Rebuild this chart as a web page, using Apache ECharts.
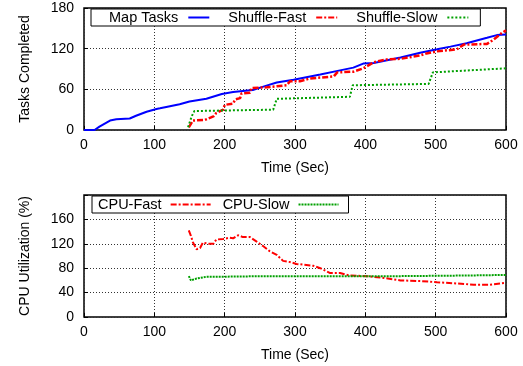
<!DOCTYPE html>
<html>
<head>
<meta charset="utf-8">
<script src="https://cdn.jsdelivr.net/npm/echarts@6/dist/echarts.min.js"></script>
<style>
  html, body { margin: 0; padding: 0; background: #fff; }
  #chart { width: 523px; height: 366px; }
</style>
</head>
<body>
<div id="chart"></div>
<script>
// top panel: tasks completed over time
const mapX = [0, 15, 22, 37, 46, 65, 74, 89, 103, 108, 117, 136, 150, 174, 196, 212, 240, 255, 274, 298, 307, 336, 364, 383, 397, 412, 450, 478, 502, 521, 544, 573, 587, 600];
const mapY = [0, 0, 5, 14, 16, 17, 21, 27, 31, 32, 34, 38, 42, 46, 53, 56, 59, 64, 70, 74, 76, 82, 88, 92, 98, 99, 107, 114, 119, 123, 128, 136, 140, 141];

const fastX = [149, 155, 172, 184, 188, 198, 200, 212, 215, 222, 224, 236, 238, 260, 288, 293, 307, 321, 355, 360, 383, 397, 412, 430, 450, 478, 487, 502, 530, 540, 573, 582, 594, 600];
const fastY = [4, 14, 15, 20, 25, 30, 37, 39, 45, 47, 54, 55, 62, 63, 66, 72, 72, 76, 79, 85, 86, 91, 100, 104, 105, 110, 113, 116, 119, 126, 127, 133, 143, 147];

const slowX = [148, 153, 157, 269, 274, 378, 382, 490, 496, 600];
const slowY = [4, 20, 28, 30, 46, 49, 66, 68, 85, 91];

// bottom panel: cpu utilization
const cpuFastX = [149, 152, 155, 160, 165, 169, 177, 184, 188, 198, 207, 212, 219, 226, 236, 245, 255, 264, 274, 283, 293, 302, 326, 336, 350, 364, 378, 402, 426, 450, 478, 502, 530, 554, 577, 600];
const cpuFastY = [142, 133, 122, 111, 113, 122, 120, 120, 127, 128, 130, 129, 134, 131, 131, 124, 116, 108, 102, 92, 90, 87, 84, 80, 72, 72, 68, 67, 64, 60, 59, 57, 55, 53, 53, 56];

const cpuSlowX = [149, 152, 160, 174, 193, 260, 355, 450, 544, 600];
const cpuSlowY = [67, 60, 63, 66, 66, 67, 67, 67, 68, 69];

const pairs = (xs, ys) => xs.map((x, i) => [x, ys[i]]);

const BLUE = "#0000ff";
const RED = "#ff0000";
const GREEN = "#00a000";
const FONT = "Liberation Sans";

const chart = echarts.init(document.getElementById("chart"));

const baseX = (idx) => ({
  type: "value",
  gridIndex: idx,
  min: 0,
  max: 600,
  interval: 100,
  name: "Time (Sec)",
  nameLocation: "middle",
  nameGap: 31,
  nameTextStyle: { color: "#000", fontSize: 14, fontFamily: FONT },
  axisLine: { show: false },
  axisTick: { show: true, inside: true, length: 4, lineStyle: { color: "#000" } },
  axisLabel: { color: "#000", fontSize: 14, fontFamily: FONT, margin: 8 },
  splitLine: { show: true, lineStyle: { color: "#333", type: [1, 2], width: 1 } },
});

const baseY = (idx, max, interval, name, fmt) => ({
  type: "value",
  gridIndex: idx,
  min: 0,
  max: max,
  interval: interval,
  name: name,
  nameLocation: "middle",
  nameGap: 52,
  nameTextStyle: { color: "#000", fontSize: 14, fontFamily: FONT },
  axisLine: { show: false },
  axisTick: { show: true, inside: true, length: 4, lineStyle: { color: "#000" } },
  axisLabel: { color: "#000", fontSize: 14, fontFamily: FONT, margin: 10, formatter: fmt },
  splitLine: { show: true, lineStyle: { color: "#333", type: [1, 2], width: 1 } },
});

const lineSeries = (name, data, color, type, xi, width) => ({
  name: name,
  type: "line",
  xAxisIndex: xi,
  yAxisIndex: xi,
  data: data,
  symbol: "none",
  smooth: false,
  lineStyle: { color: color, width: width, type: type },
  itemStyle: { color: color },
  z: 3,
});

const option = {
  animation: false,
  backgroundColor: "#fff",
  grid: [
    { left: 84, width: 422, top: 8, height: 122, show: true, borderColor: "#000", borderWidth: 1.5, backgroundColor: "transparent" },
    { left: 84, width: 422, top: 195, height: 122, show: true, borderColor: "#000", borderWidth: 1.5, backgroundColor: "transparent" },
  ],
  legend: [
    {
      data: ["Map Tasks", "Shuffle-Fast", "Shuffle-Slow"],
      left: 91,
      top: 9,
      align: "right",
      orient: "horizontal",
      itemWidth: 21,
      itemHeight: 14,
      itemGap: 18,
      padding: [1, 11, 1, 18],
      borderColor: "#000",
      borderWidth: 1,
      backgroundColor: "#fff",
      itemStyle: { opacity: 0 },
      textStyle: { color: "#000", fontSize: 14.5, fontFamily: FONT, padding: [0, 5, 0, 0] },
    },
    {
      data: ["CPU-Fast", "CPU-Slow"],
      left: 92,
      top: 196,
      align: "right",
      orient: "horizontal",
      itemWidth: 40,
      itemHeight: 13,
      itemGap: 11,
      padding: [1, 9, 1, 6],
      borderColor: "#000",
      borderWidth: 1,
      backgroundColor: "#fff",
      itemStyle: { opacity: 0 },
      textStyle: { color: "#000", fontSize: 14.5, fontFamily: FONT, padding: [0, 4, 0, 0] },
    },
  ],
  xAxis: [baseX(0), baseX(1)],
  yAxis: [
    baseY(0, 180, 60, "Tasks Completed"),
    baseY(1, 200, 40, "CPU Utilization (%)", (v) => (v === 200 ? "" : v)),
  ],
  series: [
    lineSeries("Map Tasks", pairs(mapX, mapY), BLUE, "solid", 0, 2),
    lineSeries("Shuffle-Fast", pairs(fastX, fastY), RED, [6, 2, 2, 2], 0, 2.5),
    lineSeries("Shuffle-Slow", pairs(slowX, slowY), GREEN, [2, 2], 0, 2),
    lineSeries("CPU-Fast", pairs(cpuFastX, cpuFastY), RED, [6, 2, 2, 2], 1, 2),
    lineSeries("CPU-Slow", pairs(cpuSlowX, cpuSlowY), GREEN, [2, 1], 1, 2),
  ],
};

chart.setOption(option);
</script>
</body>
</html>
